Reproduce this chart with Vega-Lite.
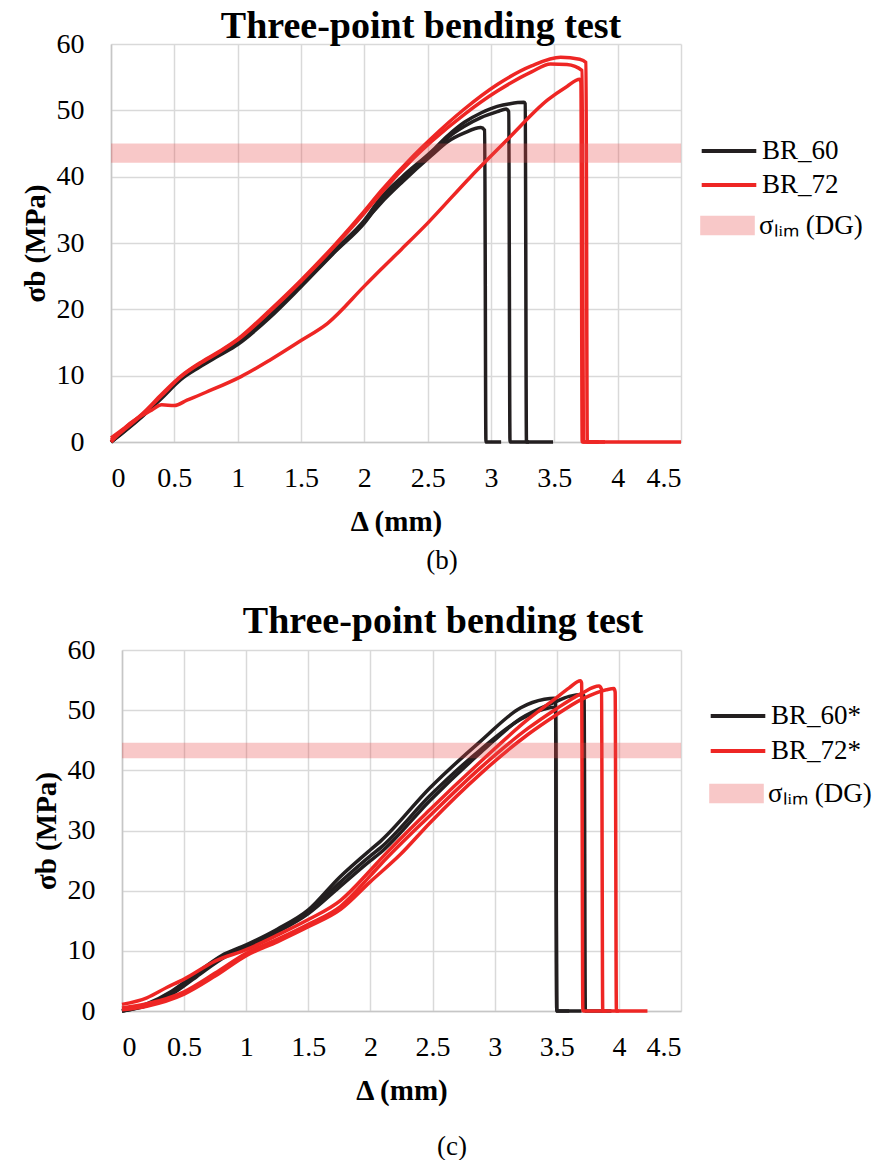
{
  "$schema": "https://vega.github.io/schema/vega-lite/v6.json",
  "padding": {"left": 21, "top": 8, "right": 0, "bottom": 0},
  "background": "white",
  "config": {
    "font": "Liberation Serif",
    "view": {"stroke": null},
    "axis": {
      "labelFont": "Liberation Serif", "labelFontSize": 28, "labelColor": "#000",
      "titleFont": "Liberation Serif", "titleFontSize": 29, "titleFontWeight": "bold", "titleColor": "#000",
      "gridColor": "#d9d9d9", "gridWidth": 1.5, "domainColor": "#c6c6c6", "domainWidth": 1.5, "ticks": false
    },
    "legend": {"labelFont": "Liberation Serif", "labelFontSize": 27, "labelColor": "#000", "padding": 0},
    "title": {"font": "Liberation Serif", "fontSize": 38, "fontWeight": "bold", "color": "#000"}
  },
  "datasets": {
    "top": [
      {"s":"BR_60","id":"a1","x":0,"y":0},{"s":"BR_60","id":"a1","x":0.1,"y":1.6},{"s":"BR_60","id":"a1","x":0.25,"y":4},{"s":"BR_60","id":"a1","x":0.4,"y":6.8},{"s":"BR_60","id":"a1","x":0.55,"y":9.6},{"s":"BR_60","id":"a1","x":0.7,"y":11.5},{"s":"BR_60","id":"a1","x":0.85,"y":13.2},{"s":"BR_60","id":"a1","x":1.0,"y":14.9},{"s":"BR_60","id":"a1","x":1.25,"y":18.9},{"s":"BR_60","id":"a1","x":1.5,"y":23.6},{"s":"BR_60","id":"a1","x":1.77,"y":28.8},{"s":"BR_60","id":"a1","x":2.0,"y":33.2},{"s":"BR_60","id":"a1","x":2.13,"y":36},{"s":"BR_60","id":"a1","x":2.3,"y":39.2},{"s":"BR_60","id":"a1","x":2.53,"y":43.2},{"s":"BR_60","id":"a1","x":2.66,"y":45.3},{"s":"BR_60","id":"a1","x":2.79,"y":46.6},{"s":"BR_60","id":"a1","x":2.92,"y":47.4},{"s":"BR_60","id":"a1","x":2.95,"y":47},{"s":"BR_60","id":"a1","x":2.96,"y":0},{"s":"BR_60","id":"a1","x":3.08,"y":0},
      {"s":"BR_60","id":"a2","x":0,"y":0},{"s":"BR_60","id":"a2","x":0.1,"y":1.5},{"s":"BR_60","id":"a2","x":0.25,"y":3.9},{"s":"BR_60","id":"a2","x":0.4,"y":6.6},{"s":"BR_60","id":"a2","x":0.55,"y":9.4},{"s":"BR_60","id":"a2","x":0.7,"y":11.3},{"s":"BR_60","id":"a2","x":0.85,"y":13},{"s":"BR_60","id":"a2","x":1.0,"y":14.7},{"s":"BR_60","id":"a2","x":1.25,"y":18.7},{"s":"BR_60","id":"a2","x":1.5,"y":23.4},{"s":"BR_60","id":"a2","x":1.77,"y":28.7},{"s":"BR_60","id":"a2","x":2.0,"y":33},{"s":"BR_60","id":"a2","x":2.13,"y":36.3},{"s":"BR_60","id":"a2","x":2.3,"y":39.5},{"s":"BR_60","id":"a2","x":2.53,"y":43.5},{"s":"BR_60","id":"a2","x":2.66,"y":45.9},{"s":"BR_60","id":"a2","x":2.79,"y":47.6},{"s":"BR_60","id":"a2","x":2.92,"y":48.9},{"s":"BR_60","id":"a2","x":3.05,"y":49.8},{"s":"BR_60","id":"a2","x":3.12,"y":50.2},{"s":"BR_60","id":"a2","x":3.14,"y":49.8},{"s":"BR_60","id":"a2","x":3.15,"y":0},{"s":"BR_60","id":"a2","x":3.3,"y":0},
      {"s":"BR_60","id":"a3","x":0,"y":0},{"s":"BR_60","id":"a3","x":0.1,"y":1.6},{"s":"BR_60","id":"a3","x":0.25,"y":4.1},{"s":"BR_60","id":"a3","x":0.4,"y":6.9},{"s":"BR_60","id":"a3","x":0.55,"y":9.7},{"s":"BR_60","id":"a3","x":0.7,"y":11.6},{"s":"BR_60","id":"a3","x":0.85,"y":13.3},{"s":"BR_60","id":"a3","x":1.0,"y":15},{"s":"BR_60","id":"a3","x":1.25,"y":19},{"s":"BR_60","id":"a3","x":1.5,"y":23.8},{"s":"BR_60","id":"a3","x":1.77,"y":29},{"s":"BR_60","id":"a3","x":2.0,"y":33.4},{"s":"BR_60","id":"a3","x":2.13,"y":36.8},{"s":"BR_60","id":"a3","x":2.3,"y":40},{"s":"BR_60","id":"a3","x":2.53,"y":43.8},{"s":"BR_60","id":"a3","x":2.66,"y":46.2},{"s":"BR_60","id":"a3","x":2.79,"y":48.2},{"s":"BR_60","id":"a3","x":2.92,"y":49.6},{"s":"BR_60","id":"a3","x":3.05,"y":50.6},{"s":"BR_60","id":"a3","x":3.15,"y":51},{"s":"BR_60","id":"a3","x":3.26,"y":51.2},{"s":"BR_60","id":"a3","x":3.27,"y":51},{"s":"BR_60","id":"a3","x":3.28,"y":0},{"s":"BR_60","id":"a3","x":3.49,"y":0},
      {"s":"BR_72","id":"b1","x":0,"y":0.6},{"s":"BR_72","id":"b1","x":0.1,"y":2},{"s":"BR_72","id":"b1","x":0.25,"y":4.3},{"s":"BR_72","id":"b1","x":0.4,"y":7.2},{"s":"BR_72","id":"b1","x":0.55,"y":9.9},{"s":"BR_72","id":"b1","x":0.7,"y":11.9},{"s":"BR_72","id":"b1","x":0.85,"y":13.6},{"s":"BR_72","id":"b1","x":1.0,"y":15.5},{"s":"BR_72","id":"b1","x":1.25,"y":19.8},{"s":"BR_72","id":"b1","x":1.5,"y":24.4},{"s":"BR_72","id":"b1","x":1.77,"y":29.8},{"s":"BR_72","id":"b1","x":2.0,"y":34.8},{"s":"BR_72","id":"b1","x":2.13,"y":37.8},{"s":"BR_72","id":"b1","x":2.39,"y":43.2},{"s":"BR_72","id":"b1","x":2.53,"y":45.8},{"s":"BR_72","id":"b1","x":2.79,"y":50.2},{"s":"BR_72","id":"b1","x":3.05,"y":53.9},{"s":"BR_72","id":"b1","x":3.32,"y":56.7},{"s":"BR_72","id":"b1","x":3.55,"y":58},{"s":"BR_72","id":"b1","x":3.7,"y":57.7},{"s":"BR_72","id":"b1","x":3.75,"y":57.2},{"s":"BR_72","id":"b1","x":3.76,"y":0},{"s":"BR_72","id":"b1","x":4.5,"y":0},
      {"s":"BR_72","id":"b2","x":0,"y":0.3},{"s":"BR_72","id":"b2","x":0.1,"y":1.8},{"s":"BR_72","id":"b2","x":0.25,"y":4.2},{"s":"BR_72","id":"b2","x":0.4,"y":7},{"s":"BR_72","id":"b2","x":0.55,"y":9.8},{"s":"BR_72","id":"b2","x":0.7,"y":11.8},{"s":"BR_72","id":"b2","x":0.85,"y":13.5},{"s":"BR_72","id":"b2","x":1.0,"y":15.4},{"s":"BR_72","id":"b2","x":1.25,"y":19.6},{"s":"BR_72","id":"b2","x":1.5,"y":24.2},{"s":"BR_72","id":"b2","x":1.77,"y":29.6},{"s":"BR_72","id":"b2","x":2.0,"y":34.5},{"s":"BR_72","id":"b2","x":2.13,"y":37.5},{"s":"BR_72","id":"b2","x":2.39,"y":42.8},{"s":"BR_72","id":"b2","x":2.53,"y":45.3},{"s":"BR_72","id":"b2","x":2.79,"y":49.4},{"s":"BR_72","id":"b2","x":3.05,"y":52.9},{"s":"BR_72","id":"b2","x":3.32,"y":55.8},{"s":"BR_72","id":"b2","x":3.47,"y":57},{"s":"BR_72","id":"b2","x":3.6,"y":56.9},{"s":"BR_72","id":"b2","x":3.72,"y":56},{"s":"BR_72","id":"b2","x":3.73,"y":0},{"s":"BR_72","id":"b2","x":3.9,"y":0},
      {"s":"BR_72","id":"b3","x":0,"y":0},{"s":"BR_72","id":"b3","x":0.15,"y":2.8},{"s":"BR_72","id":"b3","x":0.32,"y":4.8},{"s":"BR_72","id":"b3","x":0.4,"y":5.6},{"s":"BR_72","id":"b3","x":0.5,"y":5.5},{"s":"BR_72","id":"b3","x":0.6,"y":6.3},{"s":"BR_72","id":"b3","x":0.75,"y":7.5},{"s":"BR_72","id":"b3","x":1.03,"y":9.9},{"s":"BR_72","id":"b3","x":1.25,"y":12.3},{"s":"BR_72","id":"b3","x":1.5,"y":15.3},{"s":"BR_72","id":"b3","x":1.71,"y":17.9},{"s":"BR_72","id":"b3","x":2.0,"y":23.5},{"s":"BR_72","id":"b3","x":2.13,"y":26},{"s":"BR_72","id":"b3","x":2.29,"y":29},{"s":"BR_72","id":"b3","x":2.5,"y":33},{"s":"BR_72","id":"b3","x":2.84,"y":40},{"s":"BR_72","id":"b3","x":3.13,"y":45.6},{"s":"BR_72","id":"b3","x":3.45,"y":51.6},{"s":"BR_72","id":"b3","x":3.6,"y":53.6},{"s":"BR_72","id":"b3","x":3.7,"y":54.7},{"s":"BR_72","id":"b3","x":3.71,"y":54.2},{"s":"BR_72","id":"b3","x":3.72,"y":0},{"s":"BR_72","id":"b3","x":3.85,"y":0}
    ],
    "bot": [
      {"s":"BR_60*","id":"c1","x":0,"y":0},{"s":"BR_60*","id":"c1","x":0.2,"y":1.2},{"s":"BR_60*","id":"c1","x":0.4,"y":3.3},{"s":"BR_60*","id":"c1","x":0.6,"y":6.3},{"s":"BR_60*","id":"c1","x":0.8,"y":9.2},{"s":"BR_60*","id":"c1","x":1.0,"y":11},{"s":"BR_60*","id":"c1","x":1.25,"y":13.6},{"s":"BR_60*","id":"c1","x":1.5,"y":16.8},{"s":"BR_60*","id":"c1","x":1.75,"y":22.2},{"s":"BR_60*","id":"c1","x":2.0,"y":26.8},{"s":"BR_60*","id":"c1","x":2.08,"y":28.2},{"s":"BR_60*","id":"c1","x":2.48,"y":37.1},{"s":"BR_60*","id":"c1","x":2.89,"y":44.9},{"s":"BR_60*","id":"c1","x":3.21,"y":50.4},{"s":"BR_60*","id":"c1","x":3.4,"y":51.8},{"s":"BR_60*","id":"c1","x":3.48,"y":52},{"s":"BR_60*","id":"c1","x":3.49,"y":51.8},{"s":"BR_60*","id":"c1","x":3.5,"y":0},{"s":"BR_60*","id":"c1","x":3.6,"y":0},
      {"s":"BR_60*","id":"c2","x":0,"y":0},{"s":"BR_60*","id":"c2","x":0.2,"y":1},{"s":"BR_60*","id":"c2","x":0.4,"y":3},{"s":"BR_60*","id":"c2","x":0.6,"y":6},{"s":"BR_60*","id":"c2","x":0.82,"y":9.2},{"s":"BR_60*","id":"c2","x":1.0,"y":10.7},{"s":"BR_60*","id":"c2","x":1.25,"y":13.3},{"s":"BR_60*","id":"c2","x":1.5,"y":16.5},{"s":"BR_60*","id":"c2","x":1.75,"y":21.3},{"s":"BR_60*","id":"c2","x":2.0,"y":25.8},{"s":"BR_60*","id":"c2","x":2.08,"y":27.1},{"s":"BR_60*","id":"c2","x":2.48,"y":35.8},{"s":"BR_60*","id":"c2","x":2.89,"y":43.5},{"s":"BR_60*","id":"c2","x":3.21,"y":48.5},{"s":"BR_60*","id":"c2","x":3.4,"y":50.2},{"s":"BR_60*","id":"c2","x":3.48,"y":50.5},{"s":"BR_60*","id":"c2","x":3.49,"y":50.2},{"s":"BR_60*","id":"c2","x":3.5,"y":0},{"s":"BR_60*","id":"c2","x":3.7,"y":0},
      {"s":"BR_60*","id":"c3","x":0,"y":0},{"s":"BR_60*","id":"c3","x":0.2,"y":0.9},{"s":"BR_60*","id":"c3","x":0.4,"y":2.8},{"s":"BR_60*","id":"c3","x":0.6,"y":5.7},{"s":"BR_60*","id":"c3","x":0.84,"y":9.1},{"s":"BR_60*","id":"c3","x":1.0,"y":10.5},{"s":"BR_60*","id":"c3","x":1.25,"y":13.1},{"s":"BR_60*","id":"c3","x":1.5,"y":16.2},{"s":"BR_60*","id":"c3","x":1.75,"y":20.6},{"s":"BR_60*","id":"c3","x":2.0,"y":25},{"s":"BR_60*","id":"c3","x":2.08,"y":26.3},{"s":"BR_60*","id":"c3","x":2.48,"y":35},{"s":"BR_60*","id":"c3","x":2.89,"y":43},{"s":"BR_60*","id":"c3","x":3.21,"y":48.6},{"s":"BR_60*","id":"c3","x":3.48,"y":51.3},{"s":"BR_60*","id":"c3","x":3.6,"y":52.3},{"s":"BR_60*","id":"c3","x":3.71,"y":52.6},{"s":"BR_60*","id":"c3","x":3.72,"y":52.2},{"s":"BR_60*","id":"c3","x":3.73,"y":0},{"s":"BR_60*","id":"c3","x":3.94,"y":0},
      {"s":"BR_72*","id":"d1","x":0,"y":1.1},{"s":"BR_72*","id":"d1","x":0.2,"y":2.2},{"s":"BR_72*","id":"d1","x":0.36,"y":3.9},{"s":"BR_72*","id":"d1","x":0.5,"y":5.3},{"s":"BR_72*","id":"d1","x":0.75,"y":8.3},{"s":"BR_72*","id":"d1","x":1.0,"y":10.2},{"s":"BR_72*","id":"d1","x":1.25,"y":12.6},{"s":"BR_72*","id":"d1","x":1.5,"y":15.2},{"s":"BR_72*","id":"d1","x":1.76,"y":18.4},{"s":"BR_72*","id":"d1","x":2.0,"y":23.4},{"s":"BR_72*","id":"d1","x":2.08,"y":25.2},{"s":"BR_72*","id":"d1","x":2.48,"y":33.5},{"s":"BR_72*","id":"d1","x":2.89,"y":41.5},{"s":"BR_72*","id":"d1","x":3.27,"y":48.5},{"s":"BR_72*","id":"d1","x":3.48,"y":51.8},{"s":"BR_72*","id":"d1","x":3.6,"y":53.7},{"s":"BR_72*","id":"d1","x":3.69,"y":54.9},{"s":"BR_72*","id":"d1","x":3.7,"y":54.5},{"s":"BR_72*","id":"d1","x":3.71,"y":0},{"s":"BR_72*","id":"d1","x":3.9,"y":0},
      {"s":"BR_72*","id":"d2","x":0,"y":0.5},{"s":"BR_72*","id":"d2","x":0.2,"y":1.2},{"s":"BR_72*","id":"d2","x":0.5,"y":3.2},{"s":"BR_72*","id":"d2","x":0.75,"y":6.3},{"s":"BR_72*","id":"d2","x":1.0,"y":9.6},{"s":"BR_72*","id":"d2","x":1.25,"y":11.9},{"s":"BR_72*","id":"d2","x":1.5,"y":14.4},{"s":"BR_72*","id":"d2","x":1.76,"y":17.4},{"s":"BR_72*","id":"d2","x":2.0,"y":22.5},{"s":"BR_72*","id":"d2","x":2.08,"y":24.3},{"s":"BR_72*","id":"d2","x":2.48,"y":32.5},{"s":"BR_72*","id":"d2","x":2.89,"y":40.5},{"s":"BR_72*","id":"d2","x":3.27,"y":47},{"s":"BR_72*","id":"d2","x":3.48,"y":50},{"s":"BR_72*","id":"d2","x":3.7,"y":52.8},{"s":"BR_72*","id":"d2","x":3.84,"y":54},{"s":"BR_72*","id":"d2","x":3.86,"y":53.5},{"s":"BR_72*","id":"d2","x":3.87,"y":0},{"s":"BR_72*","id":"d2","x":4.0,"y":0},
      {"s":"BR_72*","id":"d3","x":0,"y":0.2},{"s":"BR_72*","id":"d3","x":0.2,"y":0.8},{"s":"BR_72*","id":"d3","x":0.5,"y":2.8},{"s":"BR_72*","id":"d3","x":0.75,"y":5.8},{"s":"BR_72*","id":"d3","x":1.0,"y":9.2},{"s":"BR_72*","id":"d3","x":1.25,"y":11.5},{"s":"BR_72*","id":"d3","x":1.5,"y":14},{"s":"BR_72*","id":"d3","x":1.76,"y":16.9},{"s":"BR_72*","id":"d3","x":2.0,"y":21.5},{"s":"BR_72*","id":"d3","x":2.24,"y":26},{"s":"BR_72*","id":"d3","x":2.48,"y":31.3},{"s":"BR_72*","id":"d3","x":2.89,"y":39.5},{"s":"BR_72*","id":"d3","x":3.27,"y":46},{"s":"BR_72*","id":"d3","x":3.48,"y":49},{"s":"BR_72*","id":"d3","x":3.7,"y":51.8},{"s":"BR_72*","id":"d3","x":3.9,"y":53.4},{"s":"BR_72*","id":"d3","x":3.96,"y":53.6},{"s":"BR_72*","id":"d3","x":3.97,"y":53},{"s":"BR_72*","id":"d3","x":3.98,"y":0},{"s":"BR_72*","id":"d3","x":4.23,"y":0}
    ],
    "bandTop": [{"s":"σₗᵢₘ (DG)","x":0,"x2":4.5,"y":42.1,"y2":45}],
    "bandBot": [{"s":"σₗᵢₘ (DG)","x":0,"x2":4.5,"y":42,"y2":44.6}]
  },
  "resolve": {"scale": {"stroke": "independent", "fill": "independent"}, "legend": {"stroke": "independent", "fill": "independent"}},
  "spacing": 29,
  "vconcat": [
    {
      "title": {"text": "(b)", "orient": "bottom", "anchor": "middle", "fontSize": 27, "fontWeight": "normal", "offset": 12},
      "resolve": {"scale": {"stroke": "independent", "fill": "independent"}},
      "vconcat": [
        {
          "width": 570, "height": 398,
          "title": {"text": "Three-point bending test", "anchor": "middle", "dx": 25, "offset": -16},
          "layer": [
            {
              "data": {"name": "top"},
              "mark": {"type": "line", "strokeWidth": 3.5, "interpolate": "monotone"},
              "encoding": {
                "x": {"field": "x", "type": "quantitative", "scale": {"domain": [0, 4.5], "nice": false},
                      "axis": {"values": [0,0.5,1,1.5,2,2.5,3,3.5,4,4.5], "format": "~g", "title": "Δ (mm)", "labelPadding": 22, "titlePadding": 15}},
                "y": {"field": "y", "type": "quantitative", "scale": {"domain": [0, 60], "nice": false},
                      "axis": {"values": [0,10,20,30,40,50,60], "title": "σb (MPa)", "labelPadding": 27, "titlePadding": 6}},
                "stroke": {"field": "s", "type": "nominal",
                           "scale": {"domain": ["BR_60", "BR_72"], "range": ["#231f20", "#ee2624"]},
                           "legend": {"title": null, "orient": "none", "legendX": 603, "legendY": 92,
                                      "symbolType": "M-2.1,0H2.1", "symbolSize": 676, "symbolStrokeWidth": 4,
                                      "labelOffset": 18, "rowPadding": 6}},
                "detail": {"field": "id", "type": "nominal"}
              }
            },
            {
              "data": {"name": "bandTop"},
              "mark": {"type": "rect", "opacity": 0.3},
              "encoding": {
                "x": {"field": "x", "type": "quantitative"},
                "x2": {"field": "x2"},
                "y": {"field": "y", "type": "quantitative"},
                "y2": {"field": "y2"},
                "fill": {"field": "s", "type": "nominal", "scale": {"range": ["#e84a4a"]},
                         "legend": {"title": null, "orient": "none", "legendX": 603, "legendY": 168,
                                    "symbolType": "M-2.1,-0.75H2.1V0.75H-2.1Z", "symbolSize": 676, "symbolStrokeWidth": 0,
                                    "labelOffset": 18}}
              }
            }
          ]
        }
      ]
    },
    {
      "title": {"text": "(c)", "orient": "bottom", "anchor": "middle", "fontSize": 27, "fontWeight": "normal", "offset": 29},
      "resolve": {"scale": {"stroke": "independent", "fill": "independent"}},
      "vconcat": [
        {
          "width": 570, "height": 361,
          "title": {"text": "Three-point bending test", "anchor": "middle", "dx": 47, "offset": -5},
          "layer": [
            {
              "data": {"name": "bot"},
              "mark": {"type": "line", "strokeWidth": 3.5, "interpolate": "monotone"},
              "encoding": {
                "x": {"field": "x", "type": "quantitative", "scale": {"domain": [0, 4.5], "nice": false, "range": [11, 570]},
                      "axis": {"values": [0,0.5,1,1.5,2,2.5,3,3.5,4,4.5], "format": "~g", "title": "Δ (mm)", "labelPadding": 22, "titlePadding": 15}},
                "y": {"field": "y", "type": "quantitative", "scale": {"domain": [0, 60], "nice": false},
                      "axis": {"values": [0,10,20,30,40,50,60], "title": "σb (MPa)", "labelPadding": 27, "titlePadding": 6, "offset": -11}},
                "stroke": {"field": "s", "type": "nominal",
                           "scale": {"domain": ["BR_60*", "BR_72*"], "range": ["#231f20", "#ee2624"]},
                           "legend": {"title": null, "orient": "none", "legendX": 612, "legendY": 51,
                                      "symbolType": "M-2.1,0H2.1", "symbolSize": 676, "symbolStrokeWidth": 4,
                                      "labelOffset": 18, "rowPadding": 7}},
                "detail": {"field": "id", "type": "nominal"}
              }
            },
            {
              "data": {"name": "bandBot"},
              "mark": {"type": "rect", "opacity": 0.3},
              "encoding": {
                "x": {"field": "x", "type": "quantitative"},
                "x2": {"field": "x2"},
                "y": {"field": "y", "type": "quantitative"},
                "y2": {"field": "y2"},
                "fill": {"field": "s", "type": "nominal", "scale": {"range": ["#e84a4a"]},
                         "legend": {"title": null, "orient": "none", "legendX": 612, "legendY": 130,
                                    "symbolType": "M-2.1,-0.75H2.1V0.75H-2.1Z", "symbolSize": 676, "symbolStrokeWidth": 0,
                                    "labelOffset": 18}}
              }
            }
          ]
        }
      ]
    }
  ]
}
